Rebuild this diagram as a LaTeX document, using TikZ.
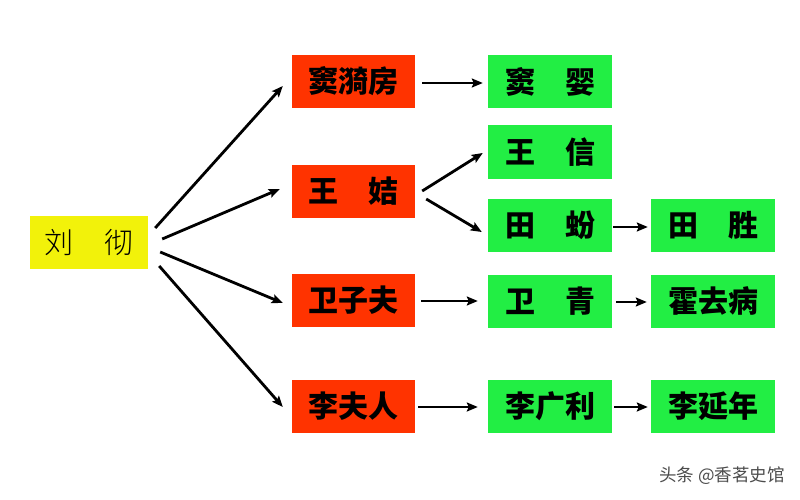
\documentclass[tikz,border=0pt]{standalone}
\usepackage{fontspec}
\newfontfamily\cjk{Noto Sans CJK SC}
\newfontfamily\cjkblack{Noto Sans CJK SC Black}
\newfontfamily\cjklight{Noto Sans CJK SC Light}
\usetikzlibrary{arrows.meta}
\definecolor{boxred}{HTML}{FF3300}
\definecolor{boxgreen}{HTML}{22EE44}
\definecolor{boxyellow}{HTML}{F2F20A}
\tikzset{
  base/.style={inner sep=0pt, minimum height=53pt, font=\cjkblack\fontsize{30}{32}\selectfont, text=black},
  redbox/.style={base, fill=boxred, minimum width=123pt},
  greenbox/.style={base, fill=boxgreen, minimum width=124pt},
  yellowbox/.style={base, fill=boxyellow, minimum width=118pt, font=\cjklight\fontsize{29}{32}\selectfont},
  arr/.style={draw=black, line width=2.8pt, -{Stealth[length=11pt,width=9pt,inset=2pt]}}
}
\begin{document}
\begin{tikzpicture}[x=1pt,y=-1pt]
\useasboundingbox (0,0) rectangle (800,500);
\node[yellowbox] (lc) at (89,242.5) {刘\hspace{1.1em}彻};
\node[redbox] (dyf) at (353.5,81.5) {窦漪房};
\node[redbox] (wz) at (353.5,191.5) {王\hspace{1em}姞};
\node[redbox] (wzf) at (353.5,300) {卫子夫};
\node[redbox] (lfr) at (353.5,406) {李夫人};
\node[greenbox] (dy) at (550,82) {窦\hspace{1em}婴};
\node[greenbox] (wx) at (550,152) {王\hspace{1em}信};
\node[greenbox] (tf) at (550,225) {田\hspace{1em}蚡};
\node[greenbox] (wq) at (550,301) {卫\hspace{1em}青};
\node[greenbox] (lgl) at (550,406) {李广利};
\node[greenbox] (ts) at (713,225) {田\hspace{1em}胜};
\node[greenbox] (hqb) at (713,301) {霍去病};
\node[greenbox] (lyn) at (713,406) {李延年};
\node[text=black!70, font=\cjk\fontsize{17.5}{19}\selectfont, anchor=east, inner sep=0pt] (wm) at (785,476) {头条 @香茗史馆};
% from Liu Che
\draw[arr] ([xshift=7pt,yshift=14.5pt]lc.east) -- ([xshift=-9pt,yshift=-4.5pt]dyf.west);
\draw[arr] ([xshift=14pt,yshift=3.5pt]lc.east) -- ([xshift=-12pt,yshift=2.5pt]wz.west);
\draw[arr] ([xshift=12pt,yshift=-9.5pt]lc.east) -- ([xshift=-9pt,yshift=-3pt]wzf.west);
\draw[arr] ([xshift=11pt,yshift=-23.5pt]lc.east) -- ([xshift=-9pt,yshift=-1pt]lfr.west);
% second level
\draw[arr] ([xshift=7pt,yshift=-1.5pt]dyf.east) -- ([xshift=-5pt,yshift=-1pt]dy.west);
\draw[arr] ([xshift=7pt,yshift=0.5pt]wz.east) -- ([xshift=-5pt,yshift=-1pt]wx.west);
\draw[arr] ([xshift=11pt,yshift=-7.5pt]wz.east) -- ([xshift=-6pt,yshift=-7pt]tf.west);
\draw[arr] ([xshift=6pt,yshift=-1pt]wzf.east) -- ([xshift=-10pt]wq.west);
\draw[arr] ([xshift=3pt,yshift=-1pt]lfr.east) -- ([xshift=-10pt,yshift=-1pt]lgl.west);
% third level
\draw[arr] ([xshift=1pt,yshift=-2pt]tf.east) -- ([xshift=-3pt,yshift=-2pt]ts.west);
\draw[arr] ([xshift=4pt,yshift=-1pt]wq.east) -- ([xshift=-4pt,yshift=-1pt]hqb.west);
\draw[arr] ([xshift=2pt,yshift=-1pt]lgl.east) -- ([xshift=-3pt,yshift=-1pt]lyn.west);
\end{tikzpicture}
\end{document}
